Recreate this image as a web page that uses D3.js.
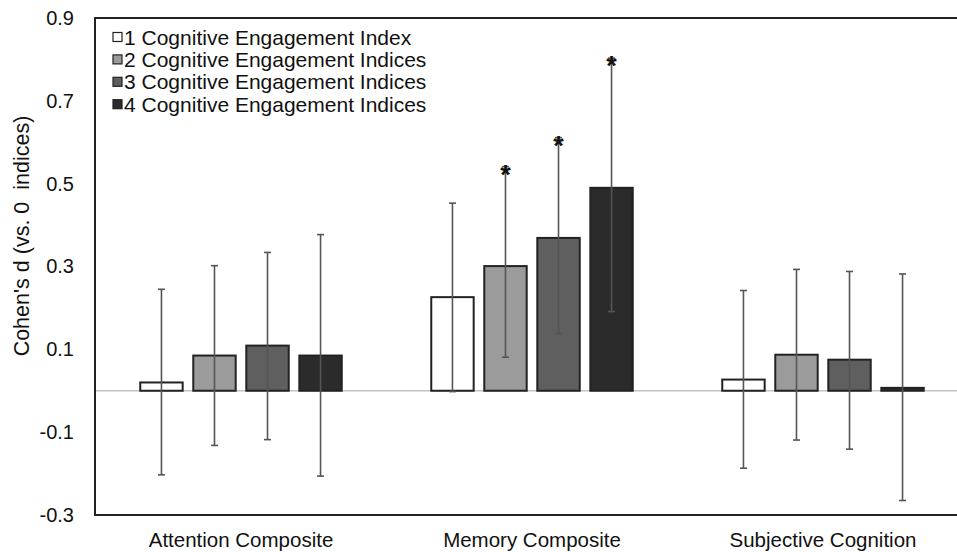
<!DOCTYPE html>
<html>
<head>
<meta charset="utf-8">
<script src="https://cdn.jsdelivr.net/npm/d3@7"></script>
<style>
  html, body { margin: 0; padding: 0; background: #fff; }
  svg { display: block; }
  text { font-family: "Liberation Sans", Arial, sans-serif; fill: #111; }
</style>
</head>
<body>
<svg id="chart" width="957" height="552"></svg>
<script>
// ---- data ----
const categories = ["Attention Composite", "Memory Composite", "Subjective Cognition"];
const seriesNames = ["1 Cognitive Engagement Index", "2 Cognitive Engagement Indices", "3 Cognitive Engagement Indices", "4 Cognitive Engagement Indices"];
const seriesColors = ["#ffffff", "#9b9b9b", "#5f5f5f", "#2b2b2b"];
// values per category, in series order
const attentionValues = [0.020, 0.085, 0.109, 0.085];
const memoryValues    = [0.226, 0.301, 0.369, 0.490];
const subjectiveValues = [0.027, 0.087, 0.075, 0.007];
const attentionHigh = [0.245, 0.302, 0.334, 0.377];
const attentionLow  = [-0.203, -0.132, -0.118, -0.206];
const memoryHigh = [0.453, 0.541, 0.611, 0.803];
const memoryLow  = [-0.002, 0.081, 0.138, 0.191];
const subjectiveHigh = [0.242, 0.293, 0.288, 0.282];
const subjectiveLow  = [-0.187, -0.119, -0.141, -0.265];
const memorySignificant = [false, true, true, true];
const noSignificant = [false, false, false, false];
const yTicks = [-0.3, -0.1, 0.1, 0.3, 0.5, 0.7, 0.9];
const yLabel = "Cohen's d (vs. 0  indices)";

const table = [
  {cat: categories[0], v: attentionValues, hi: attentionHigh, lo: attentionLow, sig: noSignificant},
  {cat: categories[1], v: memoryValues, hi: memoryHigh, lo: memoryLow, sig: memorySignificant},
  {cat: categories[2], v: subjectiveValues, hi: subjectiveHigh, lo: subjectiveLow, sig: noSignificant}
];
const rows = [];
table.forEach(g => g.v.forEach((val, i) => rows.push({cat: g.cat, s: seriesNames[i], i, v: val, hi: g.hi[i], lo: g.lo[i], sig: g.sig[i]})));

// ---- layout ----
const svg = d3.select("#chart");
const mLeft = 95, mTop = 18, mBottom = 515, mRightEdge = 968.5;

const y = d3.scaleLinear().domain([-0.3, 0.9]).range([mBottom, mTop]);
const x0 = d3.scaleBand().domain(categories).range([mLeft + 0.5, mRightEdge]).padding(0);
const half = 100.75;
const x1 = d3.scaleBand().domain(seriesNames).range([-half, half]).paddingInner(0.2).paddingOuter(0);
const color = d3.scaleOrdinal().domain(seriesNames).range(seriesColors);

// plot frame (left, top, bottom; right side falls outside the picture)
svg.append("path")
  .attr("d", `M${mRightEdge + 10},${mTop} H${mLeft} V${mBottom} H${mRightEdge + 10}`)
  .attr("fill", "none").attr("stroke", "#222").attr("stroke-width", 2);

// zero line
svg.append("line")
  .attr("x1", mLeft + 1).attr("x2", 957).attr("y1", y(0)).attr("y2", y(0))
  .attr("stroke", "#c4c4c4").attr("stroke-width", 1.5);

// y axis labels (no tick marks)
const yAxis = d3.axisLeft(y).tickValues(yTicks).tickSize(0).tickPadding(0).tickFormat(d => d.toFixed(1));
const yg = svg.append("g").attr("transform", `translate(74,0)`).call(yAxis);
yg.select(".domain").remove();
yg.selectAll("text").attr("font-size", 20).attr("fill", "#111")
  .attr("font-family", "Liberation Sans, Arial, sans-serif");

// y title
svg.append("text")
  .attr("transform", `translate(29,236) rotate(-90)`)
  .attr("text-anchor", "middle").attr("font-size", 21.5)
  .style("white-space", "pre")
  .text(yLabel);

// x axis labels
const xAxis = d3.axisBottom(x0).tickSize(0).tickPadding(0);
const xg = svg.append("g").attr("transform", `translate(0,${mBottom + 17})`).call(xAxis);
xg.select(".domain").remove();
xg.selectAll("text").attr("font-size", 20.5).attr("fill", "#111")
  .attr("font-family", "Liberation Sans, Arial, sans-serif");

// bars
const center = d => x0(d.cat) + x0.bandwidth() / 2;
svg.append("g").selectAll("rect").data(rows).join("rect")
  .attr("x", d => center(d) + x1(d.s))
  .attr("width", x1.bandwidth())
  .attr("y", d => y(Math.max(0, d.v)))
  .attr("height", d => Math.abs(y(d.v) - y(0)))
  .attr("fill", d => color(d.s))
  .attr("stroke", "#222").attr("stroke-width", 2);

// error bars
const eb = svg.append("g").attr("stroke", "#555").attr("stroke-width", 1.6).attr("fill", "none");
const bx = d => center(d) + x1(d.s) + x1.bandwidth() / 2;
eb.selectAll("line.v").data(rows).join("line").attr("class", "v")
  .attr("x1", bx).attr("x2", bx).attr("y1", d => y(d.hi)).attr("y2", d => y(d.lo));
eb.selectAll("line.t").data(rows).join("line").attr("class", "t")
  .attr("x1", d => bx(d) - 3.5).attr("x2", d => bx(d) + 3.5).attr("y1", d => y(d.hi)).attr("y2", d => y(d.hi));
eb.selectAll("line.b").data(rows).join("line").attr("class", "b")
  .attr("x1", d => bx(d) - 3.5).attr("x2", d => bx(d) + 3.5).attr("y1", d => y(d.lo)).attr("y2", d => y(d.lo));

// significance stars
svg.append("g").selectAll("text").data(rows.filter(d => d.sig)).join("text")
  .attr("x", bx).attr("y", d => y(d.hi) + 17)
  .attr("text-anchor", "middle").attr("font-size", 27).attr("font-weight", "bold")
  .attr("fill", "#222")
  .text("*");

// legend
const lg = svg.append("g").attr("transform", "translate(113,37)");
const li = lg.selectAll("g").data(seriesNames).join("g")
  .attr("transform", (d, i) => `translate(0,${i * 22.4})`);
li.append("rect").attr("x", 0).attr("y", -4.5).attr("width", 9).attr("height", 9)
  .attr("fill", d => color(d)).attr("stroke", "#222").attr("stroke-width", 1.2);
li.append("text").attr("x", 11).attr("y", 0).attr("dy", "0.36em")
  .attr("font-size", 21).text(d => d);
</script>
</body>
</html>
